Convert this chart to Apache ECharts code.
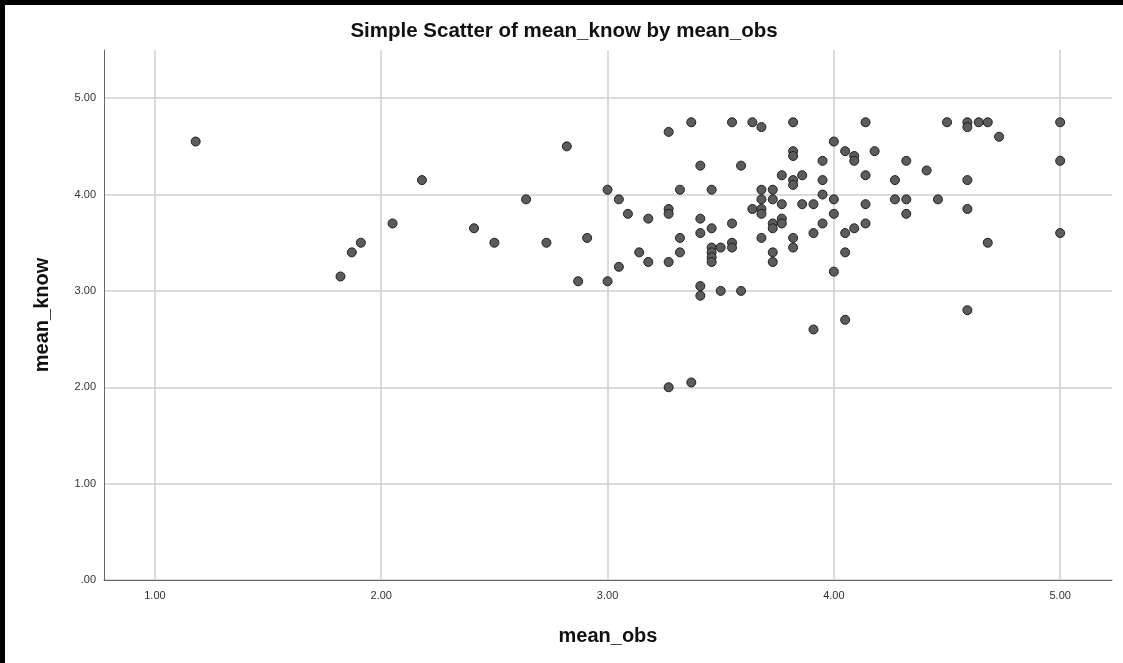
<!DOCTYPE html>
<html>
<head>
<meta charset="utf-8">
<title>Simple Scatter of mean_know by mean_obs</title>
<script src="https://cdn.jsdelivr.net/npm/echarts@6/dist/echarts.min.js"></script>
<style>
  html, body { margin: 0; padding: 0; background: #fff; }
  #chart {
    width: 1123px; height: 663px; box-sizing: border-box;
    border-left: 5px solid #000; border-top: 5px solid #000;
  }
</style>
</head>
<body>
<div id="chart"></div>
<script>
// values, paired by index
const meanObs = [
  1.18, 1.82, 1.87, 1.91, 2.05, 2.18, 2.41, 2.50, 2.64, 2.73, 2.82, 2.87, 2.91,
  3.00, 3.00, 3.05, 3.05, 3.09, 3.14, 3.18, 3.18,
  3.27, 3.27, 3.27, 3.27, 3.27, 3.32, 3.32, 3.32, 3.37, 3.37,
  3.41, 3.41, 3.41, 3.41, 3.41, 3.46, 3.46, 3.46, 3.46, 3.46, 3.46,
  3.50, 3.50, 3.55, 3.55, 3.55, 3.55, 3.59, 3.59, 3.64, 3.64,
  3.68, 3.68, 3.68, 3.68, 3.68, 3.68, 3.73, 3.73, 3.73, 3.73, 3.73, 3.73,
  3.77, 3.77, 3.77, 3.77, 3.82, 3.82, 3.82, 3.82, 3.82, 3.82, 3.82,
  3.86, 3.86, 3.91, 3.91, 3.91, 3.95, 3.95, 3.95, 3.95,
  4.00, 4.00, 4.00, 4.00, 4.05, 4.05, 4.05, 4.05, 4.09, 4.09, 4.09,
  4.14, 4.14, 4.14, 4.14, 4.18, 4.27, 4.27, 4.32, 4.32, 4.32, 4.41, 4.46,
  4.50, 4.59, 4.59, 4.59, 4.59, 4.59, 4.64, 4.68, 4.68, 4.73, 5.00, 5.00, 5.00
];
const meanKnow = [
  4.55, 3.15, 3.40, 3.50, 3.70, 4.15, 3.65, 3.50, 3.95, 3.50, 4.50, 3.10, 3.55,
  4.05, 3.10, 3.95, 3.25, 3.80, 3.40, 3.75, 3.30,
  4.65, 3.85, 3.80, 3.30, 2.00, 4.05, 3.55, 3.40, 4.75, 2.05,
  4.30, 3.75, 3.60, 3.05, 2.95, 4.05, 3.65, 3.45, 3.40, 3.35, 3.30,
  3.45, 3.00, 4.75, 3.70, 3.50, 3.45, 4.30, 3.00, 4.75, 3.85,
  4.70, 4.05, 3.95, 3.85, 3.80, 3.55, 4.05, 3.95, 3.70, 3.65, 3.40, 3.30,
  4.20, 3.90, 3.75, 3.70, 4.75, 4.45, 4.40, 4.15, 4.10, 3.55, 3.45,
  4.20, 3.90, 3.90, 3.60, 2.60, 4.35, 4.15, 4.00, 3.70,
  4.55, 3.95, 3.80, 3.20, 4.45, 3.60, 3.40, 2.70, 4.40, 4.35, 3.65,
  4.75, 4.20, 3.90, 3.70, 4.45, 4.15, 3.95, 4.35, 3.95, 3.80, 4.25, 3.95,
  4.75, 4.75, 4.70, 4.15, 3.85, 2.80, 4.75, 4.75, 3.50, 4.60, 4.75, 4.35, 3.60
];
const xTicks = [1, 2, 3, 4, 5];
const yTicks = [0, 1, 2, 3, 4, 5];

const points = meanObs.map((x, i) => [x, meanKnow[i]]);
const fmt = v => (v === 0 ? '.00' : v.toFixed(2));
const font = '"Liberation Sans", Arial, sans-serif';

const chart = echarts.init(document.getElementById('chart'));
chart.setOption({
  animation: false,
  title: {
    text: 'Simple Scatter of mean_know by mean_obs',
    left: 'center', top: 11,
    textStyle: { fontFamily: font, fontSize: 20.5, fontWeight: 'bold', color: '#111' }
  },
  grid: { left: 99, right: 11, top: 45, bottom: 83 },
  xAxis: {
    type: 'value', min: 0.775, max: 5.229,
    name: 'mean_obs', nameLocation: 'middle', nameGap: 46,
    nameTextStyle: { fontFamily: font, fontSize: 20, fontWeight: 'bold', color: '#111' },
    axisLine: { show: true, lineStyle: { color: '#666', width: 1 } },
    axisTick: { show: false, customValues: xTicks },
    axisLabel: { customValues: xTicks, formatter: fmt, margin: 10,
      fontFamily: font, fontSize: 11, color: '#333' },
    splitLine: { show: true, lineStyle: { color: '#cfcfcf', width: 1.5 } }
  },
  yAxis: {
    type: 'value', min: 0, max: 5.5,
    name: 'mean_know', nameLocation: 'middle', nameGap: 52,
    nameTextStyle: { fontFamily: font, fontSize: 20, fontWeight: 'bold', color: '#111' },
    axisLine: { show: true, lineStyle: { color: '#666', width: 1 } },
    axisTick: { show: false, customValues: yTicks },
    axisLabel: { customValues: yTicks, formatter: fmt, margin: 8,
      fontFamily: font, fontSize: 11, color: '#333' },
    splitLine: { show: true, lineStyle: { color: '#cfcfcf', width: 1.5 } }
  },
  series: [{
    type: 'scatter',
    data: points,
    symbol: 'circle',
    symbolSize: 9,
    itemStyle: { color: '#5c5c5c', borderColor: '#1e1e1e', borderWidth: 1, opacity: 1 }
  }]
});
</script>
</body>
</html>
